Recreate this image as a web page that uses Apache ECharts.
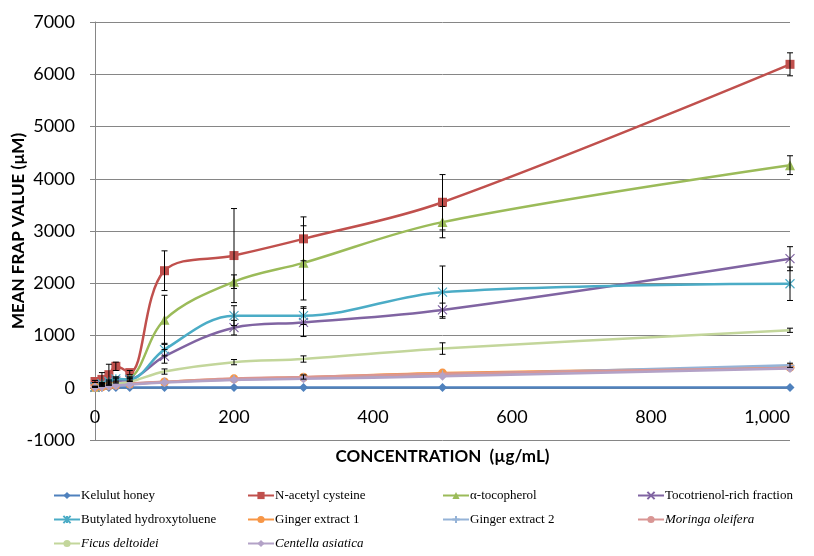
<!DOCTYPE html>
<html><head><meta charset="utf-8">
<script src="https://cdn.jsdelivr.net/npm/echarts@6/dist/echarts.min.js"></script>
<style>html,body{margin:0;padding:0;background:#fff}#c{width:814px;height:556px}</style>
</head><body><div id="c"></div>
<script>
// Concentrations (µg/mL)
var concentrations = [0, 10, 20, 30, 50, 100, 200, 300, 500, 1000];
var xTicks = [0, 200, 400, 600, 800, 1000];
var yTicks = [-1000, 0, 1000, 2000, 3000, 4000, 5000, 6000, 7000];

// Mean FRAP values (µM)
var kelulutHoney   = [2, 3, 3, 4, 4, 5, 5, 5, 6, 6];
var nAcetylCys     = [120, 160, 250, 410, 290, 2240, 2530, 2850, 3550, 6190];
var alphaToco      = [20, 60, 100, 150, 180, 1300, 2030, 2390, 3170, 4260];
var tocotrienol    = [10, 50, 80, 130, 150, 600, 1150, 1250, 1490, 2470];
var bht            = [20, 80, 120, 170, 160, 730, 1380, 1380, 1830, 1990];
var ginger1        = [10, 20, 40, 50, 70, 110, 170, 200, 280, 390];
var ginger2        = [10, 25, 45, 55, 75, 110, 160, 190, 250, 430];
var moringa        = [15, 30, 45, 60, 80, 115, 175, 205, 270, 380];
var ficus          = [20, 40, 60, 80, 110, 310, 490, 550, 750, 1100];
var centella       = [10, 20, 35, 45, 60, 100, 150, 170, 220, 370];

// Error (± SD)
var errKelulut     = [0, 0, 0, 0, 0, 0, 0, 0, 0, 0];
var errNAC         = [20, 130, 200, 80, 40, 380, 900, 420, 530, 220];
var errAlpha       = [10, 20, 30, 40, 30, 470, 130, 710, 300, 180];
var errToco        = [5, 20, 30, 40, 30, 130, 140, 270, 130, 230];
var errBHT         = [5, 20, 30, 40, 30, 120, 190, 170, 500, 320];
var errGinger1     = [0, 0, 0, 0, 0, 0, 0, 0, 0, 0];
var errGinger2     = [0, 0, 0, 0, 0, 0, 0, 0, 0, 40];
var errMoringa     = [0, 0, 0, 0, 0, 0, 0, 40, 0, 0];
var errFicus       = [0, 0, 0, 0, 0, 50, 50, 60, 110, 40];
var errCentella    = [0, 0, 0, 0, 0, 0, 0, 0, 0, 0];

var seriesNames = ['Kelulut honey', 'N-acetyl cysteine', 'α-tocopherol', 'Tocotrienol-rich fraction',
  'Butylated hydroxytoluene', 'Ginger extract 1', 'Ginger extract 2', 'Moringa oleifera',
  'Ficus deltoidei', 'Centella asiatica'];
var seriesValues = [kelulutHoney, nAcetylCys, alphaToco, tocotrienol, bht, ginger1, ginger2, moringa, ficus, centella];
var seriesErrors = [errKelulut, errNAC, errAlpha, errToco, errBHT, errGinger1, errGinger2, errMoringa, errFicus, errCentella];
var italicNames = ['Moringa oleifera', 'Ficus deltoidei', 'Centella asiatica'];

var colors = ['#4F81BD', '#C0504D', '#9BBB59', '#8064A2', '#4BACC6', '#F79646', '#95B3D7', '#D99694', '#C3D69B', '#B3A2C7'];
var symbols = ['diamond', 'rect', 'triangle', 'path://M0,0L10,10M10,0L0,10', 'path://M0,0L10,10M10,0L0,10M5,0L5,10',
  'circle', 'path://M5,0L5,10M0,5L10,5', 'none', 'none', 'diamond'];
var symbolSizes = [9, 9, 10, 9, 9, 9, 9, 0, 0, 9];

var series = [];
seriesNames.forEach(function (name, i) {
  var strokeSym = symbols[i].indexOf('path://') === 0;
  series.push({
    name: name, type: 'line', smooth: 0.35,
    symbol: symbols[i], symbolSize: symbolSizes[i],
    showSymbol: symbols[i] !== 'none',
    lineStyle: { color: colors[i], width: 2.5 },
    itemStyle: strokeSym ? { color: colors[i], borderColor: colors[i], borderWidth: 1.2 } : { color: colors[i] },
    data: concentrations.map(function (c, k) { return [c, seriesValues[i][k]]; }),
    z: 2 + i * 0.01
  });
});
seriesNames.forEach(function (name, i) {
  series.push({
    type: 'custom', silent: true, z: 3,
    data: concentrations.map(function (c, k) { return [c, seriesValues[i][k] - seriesErrors[i][k], seriesValues[i][k] + seriesErrors[i][k], seriesErrors[i][k]]; }),
    renderItem: function (params, api) {
      if (!api.value(3)) return null;
      var lo = api.coord([api.value(0), api.value(1)]);
      var hi = api.coord([api.value(0), api.value(2)]);
      var w = 3;
      var st = { stroke: '#000', lineWidth: 1 };
      return { type: 'group', children: [
        { type: 'line', shape: { x1: lo[0], y1: lo[1], x2: hi[0], y2: hi[1] }, style: st },
        { type: 'line', shape: { x1: lo[0] - w, y1: lo[1], x2: lo[0] + w, y2: lo[1] }, style: st },
        { type: 'line', shape: { x1: hi[0] - w, y1: hi[1], x2: hi[0] + w, y2: hi[1] }, style: st }
      ]};
    },
    encode: { x: 0, y: [1, 2] }
  });
});

function legendCol(names, left) {
  return {
    data: names, orient: 'vertical', left: left, top: 489, itemGap: 11,
    itemWidth: 26, itemHeight: 9, padding: 0,
    textStyle: { fontFamily: 'Liberation Serif', fontSize: 13, color: '#000', padding: [0, 0, 0, -4],
      rich: { i: { fontFamily: 'Liberation Serif', fontSize: 13, fontStyle: 'italic', color: '#000' } } },
    formatter: function (n) { return italicNames.indexOf(n) >= 0 ? '{i|' + n + '}' : n; }
  };
}

var chart = echarts.init(document.getElementById('c'));
chart.setOption({
  animation: false,
  backgroundColor: '#fff',
  grid: { left: 95, right: 24, top: 22, bottom: 116 },
  legend: [
    legendCol(['Kelulut honey', 'Butylated hydroxytoluene', 'Ficus deltoidei'], 53),
    legendCol(['N-acetyl cysteine', 'Ginger extract 1', 'Centella asiatica'], 247),
    legendCol(['α-tocopherol', 'Ginger extract 2'], 442),
    legendCol(['Tocotrienol-rich fraction', 'Moringa oleifera'], 637)
  ],
  xAxis: {
    type: 'value', min: xTicks[0], max: xTicks[xTicks.length - 1], interval: 200,
    offset: -52,
    name: 'CONCENTRATION  (µg/mL)', nameLocation: 'middle', nameGap: 60, nameMoveOverlap: false,
    nameTextStyle: { fontFamily: 'Lato', fontWeight: 'bold', fontSize: 17, color: '#000' },
    axisLine: { onZero: false, lineStyle: { color: '#868686', width: 1 } },
    axisTick: { show: false },
    splitLine: { show: false },
    axisLabel: { margin: 20, fontFamily: 'Lato', fontSize: 18, color: '#000', alignMaxLabel: 'right',
      formatter: function (v) { return v.toLocaleString('en-US'); } }
  },
  yAxis: {
    type: 'value', min: yTicks[0], max: yTicks[yTicks.length - 1], interval: 1000,
    name: 'MEAN FRAP VALUE (µM)', nameLocation: 'middle', nameGap: 68, nameRotate: 90, nameMoveOverlap: false,
    nameTextStyle: { fontFamily: 'Lato', fontWeight: 'bold', fontSize: 17, color: '#000' },
    axisLine: { show: true, onZero: false, lineStyle: { color: '#868686', width: 1 } },
    axisTick: { show: true, length: 5, lineStyle: { color: '#868686' } },
    splitLine: { lineStyle: { color: '#868686', width: 1 } },
    axisLabel: { margin: 20, fontFamily: 'Lato', fontSize: 18, color: '#000',
      formatter: function (v) { return String(v); } }
  },
  series: series
});
</script></body></html>
